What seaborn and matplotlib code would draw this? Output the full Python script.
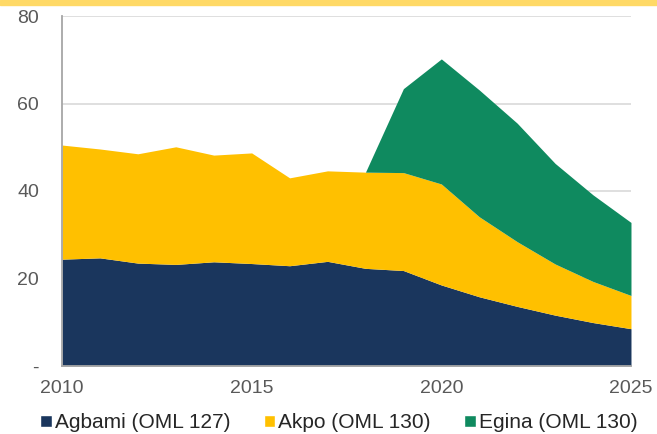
import numpy as np
import pandas as pd
import seaborn as sns
import matplotlib.pyplot as plt
from matplotlib.patches import Patch, Rectangle

# datos
anios = list(range(2010, 2026))
agbami = [24.4, 24.7, 23.5, 23.2, 23.8, 23.4, 22.9, 23.9, 22.3, 21.8, 18.5, 15.8, 13.6, 11.6, 9.9, 8.5]
akpo = [26.1, 24.9, 25.0, 26.9, 24.4, 25.3, 20.1, 20.7, 22.0, 22.4, 23.1, 18.3, 14.8, 11.7, 9.4, 7.6]
egina = [0, 0, 0, 0, 0, 0, 0, 0, 0, 19.2, 28.6, 29.0, 27.1, 23.0, 19.8, 16.7]
series = ["Agbami (OML 127)", "Akpo (OML 130)", "Egina (OML 130)"]
colores = ["#1A365D", "#FFC000", "#0F8A5F"]

df = pd.DataFrame({"Año": anios, series[0]: agbami, series[1]: akpo, series[2]: egina})

sns.set_style("white")
plt.rcParams['font.family'] = ['Liberation Sans', 'DejaVu Sans']

fig = plt.figure(figsize=(6.57, 4.34), dpi=100)
ax = fig.add_axes([0.0944, 0.157, 0.866, 0.806])

# franja amarilla superior
fig.patches.append(Rectangle((0, 0.988), 1, 0.012, transform=fig.transFigure,
                             color="#FFD966", zorder=0))

ax.stackplot(df["Año"], df[series[0]], df[series[1]], df[series[2]],
             colors=colores, linewidth=0, zorder=2)

ax.set_xlim(2010, 2025)
ax.set_ylim(0, 80)
ax.set_yticks([0, 20, 40, 60, 80])
ax.set_yticklabels(["-", "20", "40", "60", "80"])
ax.set_xticks([2010, 2015, 2020, 2025])
ax.set_xticks(anios, minor=True)
ax.yaxis.grid(True, color="#D9D9D9", linewidth=1.2, zorder=0)
ax.set_axisbelow(True)

for lado in ["top", "right"]:
    ax.spines[lado].set_visible(False)
for lado in ["left", "bottom"]:
    ax.spines[lado].set_color("#A6A6A6")
    ax.spines[lado].set_linewidth(1.3)
    ax.spines[lado].set_zorder(3)

ax.tick_params(axis="both", which="both", direction="out", colors="#A6A6A6",
               labelcolor="#595959", labelsize=14, length=5.5, width=1.2)
ax.tick_params(axis="x", pad=5)
ax.tick_params(axis="y", pad=11)

handles = [Patch(facecolor=c, label=s) for c, s in zip(colores, series)]
fig.legend(handles=handles, loc="center", bbox_to_anchor=(0.516, 0.026), ncol=3,
           frameon=False, fontsize=15, handlelength=0.55, handleheight=0.55,
           handletextpad=0.15, columnspacing=1.6, labelcolor="#262626",
           borderpad=0, borderaxespad=0)

fig.savefig("out.png", dpi=100)
